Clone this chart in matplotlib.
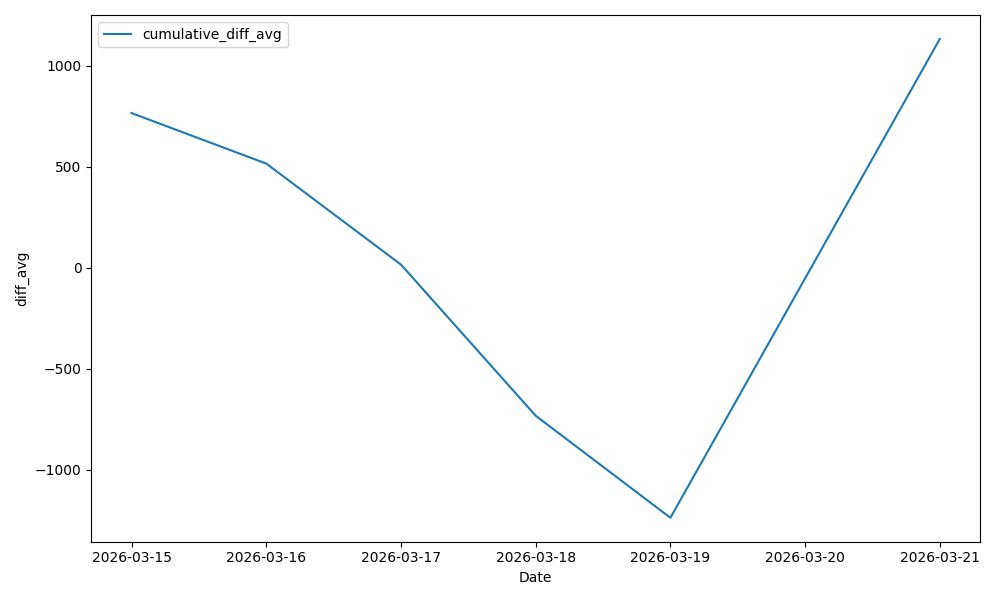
import pandas as pd
import matplotlib
matplotlib.use("Agg")
import matplotlib.pyplot as plt

dates = ["2026-03-15", "2026-03-16", "2026-03-17", "2026-03-18", "2026-03-19", "2026-03-21"]
cumulative_diff_avg = [765, 515, 15, -733, -1238, 1132]

df = pd.DataFrame({"Date": pd.to_datetime(dates), "cumulative_diff_avg": cumulative_diff_avg})

plt.figure(figsize=(10, 6))
plt.plot(df["Date"], df["cumulative_diff_avg"], label="cumulative_diff_avg")
plt.xlabel("Date")
plt.ylabel("diff_avg")
plt.legend(loc="upper left")
plt.tight_layout()
plt.savefig("out.png", dpi=100)
